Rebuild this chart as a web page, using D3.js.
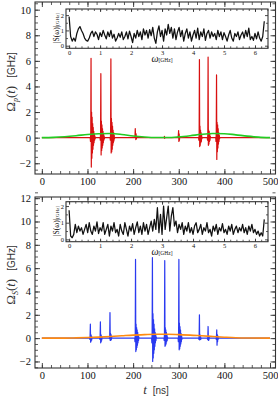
<!DOCTYPE html>
<html>
<head>
<meta charset="utf-8">
<script src="https://cdn.jsdelivr.net/npm/d3@7"></script>
<style>
  html, body { margin: 0; padding: 0; background: #fff; }
  svg { display: block; }
</style>
</head>
<body>
<div id="graph"></div>
<script>
// ---- data ----
let tTicks = [0, 100, 200, 300, 400, 500];
let pTicks = [-2, 0, 2, 4, 6, 8, 10];
let sTicks = [-2, 0, 2, 4, 6, 8, 10, 12];
let wTicks = [0, 1, 2, 3, 4, 5, 6];
let specTicks = [0, 1, 2];

// pump pulse bursts (red): start time [ns], samples every 0.6 ns
let pumpBursts = [
  { t: 106,   v: [0, -0.3, 0.5, 6.2, -2.3, 2.0, -1.6, 1.6, -1.2, 1.1, -0.9, 0.8, -0.6, 0.5, -0.4, 0.3, -0.2, 0.15, -0.1, 0] },
  { t: 127.5, v: [0, -0.2, 0.4, 5.0, -1.35, 1.3, -1.0, 1.0, -0.8, 0.7, -0.6, 0.5, -0.4, 0.3, -0.2, 0.15, -0.1, 0] },
  { t: 149.5, v: [0, -0.2, 0.4, 6.15, -1.2, 1.5, -1.1, 1.2, -0.9, 0.9, -0.6, 0.6, -0.4, 0.4, -0.25, 0.2, -0.1, 0] },
  { t: 203.5, v: [0, 0.1, 0.7, 0.2, -0.15, 0.3, -0.1, 0.1, 0] },
  { t: 268,   v: [0, 0.1, -0.05, 0] },
  { t: 298.5, v: [0, 0.2, 0.55, -0.3, 0.3, -0.2, 0.1, 0] },
  { t: 343.5, v: [0, -0.2, 0.3, 6.1, -0.7, 0.9, -0.6, 0.6, -0.4, 0.4, -0.3, 0.2, -0.1, 0] },
  { t: 362.5, v: [0, -0.2, 0.3, 6.3, -0.6, 0.6, -0.5, 0.5, -0.3, 0.3, -0.2, 0.1, 0] },
  { t: 381,   v: [0, -0.3, 0.5, 4.9, -1.7, 1.2, -1.1, 1.0, -0.8, 0.7, -0.5, 0.4, -0.3, 0.2, -0.1, 0] }
];

// Stokes pulse bursts (blue)
let stokesBursts = [
  { t: 104.5, v: [0, -0.1, 0.2, 1.2, -0.35, 0.3, -0.25, 0.2, -0.15, 0.1, 0] },
  { t: 126.5, v: [0, -0.1, 0.2, 1.4, -0.4, 0.3, -0.3, 0.2, -0.15, 0.1, 0] },
  { t: 147.5, v: [0, -0.05, 0.2, 2.2, -0.2, 0.4, -0.2, 0.3, -0.1, 0.1, 0] },
  { t: 203.5, v: [0, -0.3, 0.5, 6.75, -1.15, 1.2, -1.0, 0.9, -0.8, 0.7, -0.6, 0.5, -0.4, 0.3, -0.2, 0.1, 0] },
  { t: 240.5, v: [0, -0.4, 0.6, 6.9, -2.0, 2.1, -1.7, 1.6, -1.3, 1.2, -1.0, 0.8, -0.7, 0.5, -0.4, 0.3, -0.2, 0.1, 0] },
  { t: 267.5, v: [0, -0.2, 0.4, 6.65, -0.7, 0.9, -0.6, 0.7, -0.5, 0.5, -0.3, 0.3, -0.2, 0.1, 0] },
  { t: 298.5, v: [0, -0.3, 0.4, 6.75, -1.0, 1.3, -0.9, 1.0, -0.7, 0.7, -0.5, 0.4, -0.3, 0.2, -0.1, 0] },
  { t: 343.5, v: [0, -0.1, 0.2, 2.0, -0.15, 0.3, -0.1, 0.2, -0.1, 0] },
  { t: 362.5, v: [0, -0.1, 0.1, 1.0, -0.2, 0.2, -0.15, 0.1, 0] },
  { t: 381.5, v: [0, -0.1, 0.2, 0.7, -0.6, 0.3, -0.3, 0.2, -0.1, 0] }
];

// smooth envelopes [t, value]
let pumpEnvelope = [[0,0],[25,0.02],[50,0.07],[75,0.15],[100,0.25],[125,0.31],[150,0.32],[175,0.25],[200,0.13],
  [225,0.05],[250,0.01],[275,0.01],[300,0.06],[325,0.15],[350,0.26],[375,0.32],[400,0.31],[425,0.22],[450,0.12],[475,0.04],[500,0]];
let stokesEnvelope = [[0,0],[50,0],[75,0.02],[100,0.05],[125,0.09],[150,0.14],[175,0.2],[200,0.26],[225,0.3],[250,0.33],
  [275,0.33],[300,0.3],[325,0.26],[350,0.2],[375,0.14],[400,0.08],[425,0.03],[450,0.01],[500,0]];

// spectra |S(w)|, samples every 0.05 GHz from 0 to 6.3
let pumpSpectrum = [1.9,0.6,0.3,0.5,0.3,0.8,1.1,1.25,1.0,0.8,0.5,0.35,0.3,0.5,0.8,0.95,0.6,0.9,0.75,0.4,
  0.85,0.6,1.0,0.7,0.45,0.9,0.6,1.0,0.5,0.75,0.3,0.5,0.8,0.55,0.9,0.4,0.6,0.9,0.45,0.95,
  0.6,0.2,0.8,0.5,1.0,0.6,0.9,0.4,1.1,0.7,1.0,0.5,1.05,0.65,1.2,0.5,0.15,0.9,1.3,0.6,
  1.0,0.3,1.1,0.7,1.4,0.8,1.2,0.5,1.1,0.4,0.9,1.2,0.6,1.0,0.3,0.8,1.1,0.5,0.9,0.3,
  0.7,1.0,0.5,1.15,0.4,0.9,0.6,1.1,0.35,0.8,1.0,0.5,0.9,0.6,0.8,0.4,1.0,0.6,0.9,0.4,
  0.85,0.6,0.3,0.7,1.0,0.5,0.3,0.8,0.6,0.9,0.4,0.7,0.9,0.5,1.0,0.6,1.15,0.4,0.6,0.35,
  0.8,0.45,0.9,0.5,0.3,0.6,1.6];
let stokesSpectrum = [1.75,0.2,0.1,0.3,0.9,0.4,0.8,0.5,0.7,0.3,0.6,0.9,0.4,1.0,0.5,0.3,0.8,0.5,1.05,0.35,
  0.7,0.5,1.0,0.3,0.6,0.9,0.2,0.8,0.5,1.0,0.4,0.6,0.2,0.9,0.5,0.3,1.0,0.6,0.2,0.8,
  0.5,0.95,0.3,0.7,1.05,0.4,0.8,0.3,1.0,0.5,0.9,0.3,0.7,1.1,0.5,1.2,0.6,1.9,0.4,1.5,
  0.3,2.0,0.6,1.3,2.0,0.5,1.4,1.9,0.8,1.1,0.4,0.9,0.6,1.0,0.3,0.8,0.5,1.0,0.4,0.7,
  0.3,0.8,1.0,0.4,0.6,0.9,0.3,0.7,0.5,1.0,0.4,0.6,0.2,0.8,0.5,0.9,0.3,0.7,0.5,0.95,
  0.4,0.6,0.3,0.8,0.5,0.9,0.3,0.6,0.8,0.4,0.7,0.5,0.9,0.4,0.7,0.3,0.8,0.5,0.9,0.4,
  0.6,0.3,0.5,0.2,0.4,0.2,1.2];

// ---- helpers ----
let burstsToSeries = function(bursts) {
  let pts = [[0, 0]];
  bursts.forEach(b => b.v.forEach((v, i) => pts.push([b.t + i * 0.6, v])));
  pts.push([500, 0]);
  return pts;
};
let spectrumToSeries = function(vals) {
  return vals.map((v, i) => [i * 0.05, v]);
};

let svg = d3.select('#graph').append('svg')
  .attr('width', 278).attr('height', 399)
  .attr('viewBox', '0 0 278 399');

let frameColor = '#333';
let serif = 'Liberation Serif, Times New Roman, serif';
let sans = 'Liberation Sans, Arial, sans-serif';

let addFrame = function(g, x, y, o) {
  let [x0, x1] = x.range();
  let [y1, y0] = y.range();
  let sides = [
    { at: y1, tr: d => `translate(0,${d})`, labels: true },
    { at: y0, tr: d => `translate(0,${d})` },
    { at: x0, tr: d => `translate(${d},0)`, labels: true },
    { at: x1, tr: d => `translate(${d},0)` }
  ];
  let mk = i => i === 0 ? d3.axisBottom(x) : i === 1 ? d3.axisTop(x) : i === 2 ? d3.axisLeft(y) : d3.axisRight(y);
  sides.forEach((s, i) => {
    let isX = i < 2;
    let minor = mk(i).tickValues(isX ? o.xMinor : o.yMinor).tickFormat('').tickSize(-o.minorLen);
    g.append('g').attr('transform', s.tr(s.at)).call(minor)
      .call(a => a.select('.domain').remove())
      .selectAll('line').attr('stroke', frameColor).attr('stroke-width', 0.8);
    let ax = mk(i)
      .tickValues(isX ? o.xMajor : o.yMajor)
      .tickSize(-o.majorLen)
      .tickPadding(isX ? o.xPad : o.yPad)
      .tickFormat(s.labels ? d3.format('d') : '');
    let ga = g.append('g').attr('transform', s.tr(s.at)).call(ax);
    ga.select('.domain').remove();
    ga.selectAll('line').attr('stroke', frameColor).attr('stroke-width', 0.9);
    ga.selectAll('text').attr('font-family', serif).attr('font-size', o.fs).attr('fill', '#111');
  });
  g.append('rect')
    .attr('x', x0).attr('y', y0).attr('width', x1 - x0).attr('height', y1 - y0)
    .attr('fill', 'none').attr('stroke', frameColor).attr('stroke-width', 1.1);
};

let drawPanel = function(cfg) {
  let g = svg.append('g');
  let x = d3.scaleLinear().domain([-15, 512]).range([35, 275.5]);
  let y = d3.scaleLinear().domain(cfg.yDomain).range(cfg.yRange);

  let line = d3.line().x(d => x(d[0])).y(d => y(d[1]));
  let smooth = d3.line().x(d => x(d[0])).y(d => y(d[1])).curve(d3.curveMonotoneX);

  g.append('path').datum(burstsToSeries(cfg.bursts))
    .attr('d', line).attr('fill', 'none')
    .attr('stroke', cfg.spikeColor).attr('stroke-width', 1.2).attr('stroke-linejoin', 'round');
  g.append('path').datum(cfg.envelope)
    .attr('d', smooth).attr('fill', 'none')
    .attr('stroke', cfg.envColor).attr('stroke-width', 1.6);

  addFrame(g, x, y, {
    xMajor: tTicks, xMinor: d3.range(0, 501, 20),
    yMajor: cfg.yTicks, yMinor: d3.range(cfg.yTicks[0] - 0.5, cfg.yTicks[cfg.yTicks.length - 1] + 0.51, 0.5),
    majorLen: 5, minorLen: 3, xPad: 4, yPad: 4, fs: 10.5
  });

  // inset spectrum
  let ix = d3.scaleLinear().domain([-0.1, 6.42]).range([66, 268]);
  let iy = d3.scaleLinear().domain(cfg.iDomain).range(cfg.iRange);
  let ig = svg.append('g');
  ig.append('rect').attr('x', 66).attr('y', cfg.iRange[1])
    .attr('width', 202).attr('height', cfg.iRange[0] - cfg.iRange[1]).attr('fill', '#fff');
  ig.append('path').datum(spectrumToSeries(cfg.spectrum))
    .attr('d', d3.line().x(d => ix(d[0])).y(d => iy(d[1])))
    .attr('fill', 'none').attr('stroke', '#111').attr('stroke-width', 1.25).attr('stroke-linejoin', 'round');
  addFrame(ig, ix, iy, {
    xMajor: wTicks, xMinor: d3.range(0, 6.41, 0.2),
    yMajor: specTicks, yMinor: [0.5, 1.5],
    majorLen: 3, minorLen: 2, xPad: 2, yPad: 2, fs: 6.5
  });

  // inset titles
  let it = ig.append('text')
    .attr('transform', `translate(58.5,${cfg.iTitleY}) rotate(-90)`)
    .attr('text-anchor', 'middle').attr('fill', '#111');
  it.append('tspan').text('|S(ω)|').attr('font-family', serif).attr('font-size', 7.5);
  it.append('tspan').text('[GHz]').attr('font-family', serif).attr('font-size', 5);

  let wt = ig.append('text')
    .attr('x', 162).attr('y', cfg.iXTitleY)
    .attr('text-anchor', 'middle').attr('fill', '#111');
  wt.append('tspan').text('ω').attr('font-family', serif).attr('font-style', 'italic').attr('font-size', 10);
  wt.append('tspan').text('[GHz]').attr('font-family', serif).attr('font-size', 5.5);

  // y title
  let yt = svg.append('text')
    .attr('transform', `translate(15,${cfg.yTitleY}) rotate(-90)`)
    .attr('text-anchor', 'middle').attr('fill', '#333');
  yt.append('tspan').text('Ω').attr('font-family', serif).attr('font-size', 13);
  yt.append('tspan').text(cfg.sub).attr('font-family', serif).attr('font-style', 'italic')
    .attr('font-size', 8).attr('dy', 2.5);
  yt.append('tspan').text('(').attr('font-family', serif).attr('font-size', 13).attr('dy', -2.5);
  yt.append('tspan').text('t').attr('font-family', serif).attr('font-style', 'italic').attr('font-size', 13);
  yt.append('tspan').text(')').attr('font-family', serif).attr('font-size', 13);
  yt.append('tspan').text('[GHz]').attr('font-family', sans).attr('font-size', 10).attr('dx', 8);
};

drawPanel({
  yDomain: [-2.84, 10.6], yRange: [174, 2], yTicks: pTicks,
  bursts: pumpBursts, spikeColor: '#d81010',
  envelope: pumpEnvelope, envColor: '#22cc22',
  spectrum: pumpSpectrum, iDomain: [-0.17, 2.4], iRange: [48.3, 9],
  iTitleY: 28, iXTitleY: 62, yTitleY: 82, sub: 'p'
});

drawPanel({
  yDomain: [-2.56, 12.1], yRange: [368, 197], yTicks: sTicks,
  bursts: stokesBursts, spikeColor: '#2a3af0',
  envelope: stokesEnvelope, envColor: '#ff8a10',
  spectrum: stokesSpectrum, iDomain: [-0.14, 2.26], iRange: [241.7, 201.7],
  iTitleY: 221, iXTitleY: 254.5, yTitleY: 275, sub: 'S'
});

// x title
let xt = svg.append('text').attr('x', 156).attr('y', 394)
  .attr('text-anchor', 'middle').attr('fill', '#333');
xt.append('tspan').text('t').attr('font-family', serif).attr('font-style', 'italic').attr('font-size', 13);
xt.append('tspan').text('[ns]').attr('font-family', sans).attr('font-size', 10).attr('dx', 6);
</script>
</body>
</html>
